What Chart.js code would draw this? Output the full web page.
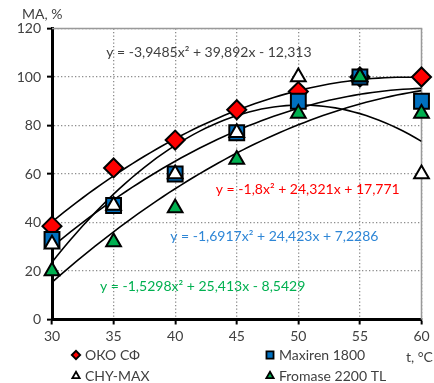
<!DOCTYPE html>
<html>
<head>
<meta charset="utf-8">
<script src="https://cdn.jsdelivr.net/npm/chart.js@4.4.0/dist/chart.umd.min.js"></script>
<style>
html, body {margin:0; padding:0; background:#fff; overflow:hidden}
#wrap {width:434px; height:383px; position:relative}
</style>
</head>
<body>
<div id="wrap"><canvas id="myChart"></canvas></div>
<script>
const temps = [30, 35, 40, 45, 50, 55, 60]
const okoValues = [38.5, 62.5, 74, 86.5, 94, 100, 100]
const maxirenValues = [33, 47, 60, 77, 90, 100, 90]
const chyMaxValues = [31, 47, 60, 77, 100, 100, 60]
const fromaseValues = [20, 32, 46, 66, 85, 100, 85]
const xTicks = [30, 35, 40, 45, 50, 55, 60]
const yTicks = [0, 20, 40, 60, 80, 100, 120]
const seriesNames = ['ОКО СФ', 'Maxiren 1800', 'CHY-MAX', 'Fromase 2200 TL']

// trend lines as printed on the chart: y = a*x^2 + b*x + c, x = point number (1..7)
const trendA = [-1.8, -1.6917, -3.9485, -1.5298]
const trendB = [24.321, 24.423, 39.892, 25.413]
const trendC = [17.771, 7.2286, -12.313, -8.5429]
const trendText = [
    'y = -1,8x² + 24,321x + 17,771',
    'y = -1,6917x² + 24,423x + 7,2286',
    'y = -3,9485x² + 39,892x - 12,313',
    'y = -1,5298x² + 25,413x - 8,5429'
]

const FONT = 'Lato, "Open Sans", sans-serif'
const markerFill = ['#FF0000', '#0070C0', '#FFFFFF', '#00B050']
const markerStyle = ['rectRot', 'rect', 'triangle', 'triangle']
const markerSize = [9.5, 10.5, 8.5, 8.5]
const eqColors = ['#FF0000', '#2E86D6', '#404040', '#00B050']
// where each equation is written (left edge, middle) in axis units
const eqPos = [[43.3, 53.5], [39.6, 34.2], [34.4, 110], [33.9, 13.5]]

function points(values) {
    return temps.map((t, i) => ({x: t, y: values[i]}))
}

const allValues = [okoValues, maxirenValues, chyMaxValues, fromaseValues]
const drawOrder = [4, 3, 2, 1]

const datasets = allValues.map((vals, i) => ({
    label: seriesNames[i],
    data: points(vals),
    showLine: false,
    clip: false,
    pointStyle: markerStyle[i],
    pointRadius: markerSize[i],
    pointBackgroundColor: markerFill[i],
    pointBorderColor: '#000',
    pointBorderWidth: 2,
    order: drawOrder[i]
}))

const extras = {
    id: 'extras',
    beforeDatasetsDraw(chart) {
        const {ctx, chartArea: a, scales: {x, y}} = chart
        ctx.save()
        // top and right frame
        ctx.strokeStyle = '#999'
        ctx.lineWidth = 1.5
        ctx.beginPath()
        ctx.moveTo(a.left, a.top)
        ctx.lineTo(a.right, a.top)
        ctx.lineTo(a.right, a.bottom)
        ctx.stroke()
        // trend lines
        ctx.beginPath()
        ctx.rect(a.left, a.top, a.right - a.left, a.bottom - a.top)
        ctx.clip()
        ctx.strokeStyle = '#000'
        ctx.lineWidth = 1.6
        for (let s = 0; s < 4; s++) {
            ctx.beginPath()
            for (let t = 30; t <= 60.001; t += 0.5) {
                const n = (t - 30) / 5 + 1
                const v = trendA[s] * n * n + trendB[s] * n + trendC[s]
                const px = x.getPixelForValue(t), py = y.getPixelForValue(v)
                if (t === 30) ctx.moveTo(px, py)
                else ctx.lineTo(px, py)
            }
            ctx.stroke()
        }
        ctx.restore()
    },
    afterDraw(chart) {
        const {ctx, scales: {x, y}} = chart
        ctx.save()
        ctx.textBaseline = 'middle'
        ctx.font = '14px ' + FONT
        for (let s = 0; s < 4; s++) {
            ctx.fillStyle = eqColors[s]
            ctx.fillText(trendText[s], x.getPixelForValue(eqPos[s][0]), y.getPixelForValue(eqPos[s][1]))
        }
        // axis titles
        ctx.fillStyle = '#404040'
        ctx.font = '14px ' + FONT
        ctx.fillText('MA, %', 22, 14)
        ctx.fillText('t, °C', 406, 357)
        // legend
        const legendPos = [[76, 355], [270, 355], [76, 376], [270, 376]]
        const legendR = [4.2, 5, 4.2, 4.2]
        for (let s = 0; s < 4; s++) {
            const [lx, ly] = legendPos[s]
            ctx.fillStyle = markerFill[s]
            ctx.strokeStyle = '#000'
            ctx.lineWidth = 1.8
            Chart.helpers.drawPoint(ctx, {pointStyle: markerStyle[s], radius: legendR[s], borderWidth: 1.8, rotation: 0}, lx, ly)
            ctx.fillStyle = '#404040'
            ctx.font = '14px ' + FONT
            ctx.fillText(seriesNames[s], lx + 9, ly)
        }
        ctx.restore()
    }
}

function drawChart() {
    const ctx = document.getElementById('myChart')
    const tickFont = {family: FONT, size: 14}

    const config = {
        type: 'scatter',
        data: {datasets: datasets},
        options: {
            responsive: true,
            maintainAspectRatio: false,
            animation: false,
            layout: {padding: {left: 0, top: 28.5, right: 11, bottom: 0}},
            plugins: {legend: {display: false}, tooltip: {enabled: false}},
            scales: {
                x: {
                    type: 'linear', min: 30, max: 60,
                    afterBuildTicks: (s) => { s.ticks = xTicks.map(v => ({value: v})) },
                    afterFit: (s) => { s.height = 63.5 },
                    ticks: {color: '#404040', font: tickFont, padding: 4},
                    grid: {color: '#8c8c8c', lineWidth: 1.3, tickLength: 5, tickColor: '#000', tickWidth: 2, tickBorderDash: []},
                    border: {color: '#000', width: 3, dash: [1.3, 2.2]}
                },
                y: {
                    min: 0, max: 120,
                    afterBuildTicks: (s) => { s.ticks = yTicks.map(v => ({value: v})) },
                    afterFit: (s) => { s.width = 52 },
                    ticks: {color: '#404040', font: tickFont, padding: 6},
                    grid: {color: '#8c8c8c', lineWidth: 1.3, tickLength: 5, tickColor: '#000', tickWidth: 2, tickBorderDash: []},
                    border: {color: '#000', width: 3, dash: [1.3, 2.2]}
                }
            }
        },
        plugins: [extras]
    }

    new Chart(ctx, config)
}

document.addEventListener('DOMContentLoaded', drawChart)
</script>
</body>
</html>
